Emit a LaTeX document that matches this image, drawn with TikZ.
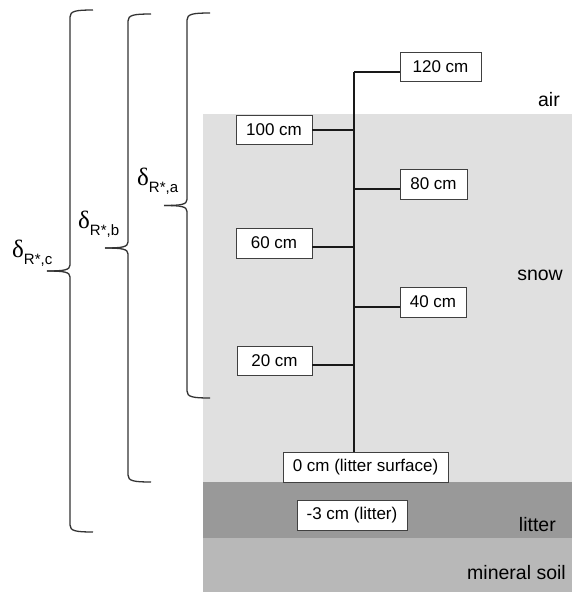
\documentclass[tikz,border=0pt]{standalone}
\usepackage{fontspec}
\setmainfont{Liberation Sans}
\newfontfamily\greekfont{Liberation Serif}
\begin{document}
\begin{tikzpicture}[x=1pt,y=-1pt,
  box/.style={draw=black!75,line width=0.8pt,fill=white,inner sep=0pt,font=\fontsize{17}{19}\selectfont},
  conn/.style={line width=1.6pt,black!90},
  brace/.style={line width=1.3pt,black!80},
  zone/.style={font=\fontsize{19.5}{21}\selectfont,anchor=base east,inner sep=0pt},
  dlab/.style={anchor=base west,inner sep=0pt}]
\useasboundingbox (0,0) rectangle (574,592);
% layers
\fill[black!12] (203,114) rectangle (572,482);
\fill[black!40] (203,482) rectangle (572,538);
\fill[black!28] (203,538) rectangle (572,592);
% zone labels
\node[zone] (air) at (560,106) {air};
\node[zone] (snow) at (563,280) {snow};
\node[zone] (litter) at (556,531) {litter};
\node[zone] (soil) at (566,579) {mineral soil};
% boxes
\node[box,minimum width=81pt,minimum height=29pt] (b120) at (440.5,66.5) {120 cm};
\node[box,minimum width=76pt,minimum height=29pt] (b100) at (274,129.5) {100 cm};
\node[box,minimum width=67pt,minimum height=30pt] (b80) at (433.5,184) {80 cm};
\node[box,minimum width=76pt,minimum height=30pt] (b60) at (274,243) {60 cm};
\node[box,minimum width=66pt,minimum height=30pt] (b40) at (433,302) {40 cm};
\node[box,minimum width=75pt,minimum height=29pt] (b20) at (274.5,360.5) {20 cm};
\node[box,minimum width=165pt,minimum height=30pt] (b0) at (365.5,467) {0 cm (litter surface)};
\node[box,minimum width=110pt,minimum height=30pt] (bm3) at (352,515) {-3 cm (litter)};
% trunk coordinates
\coordinate (t120) at (354,72);
\coordinate (t100) at (354,130);
\coordinate (t80) at (354,189);
\coordinate (t60) at (354,247);
\coordinate (t40) at (354,307);
\coordinate (t20) at (354,365);
\coordinate (tb) at (354,452);
\draw[conn] (t120) -- (tb);
\draw[conn] (t120) -- (t120 -| b120.west);
\draw[conn] (t100) -- (t100 -| b100.east);
\draw[conn] (t80) -- (t80 -| b80.west);
\draw[conn] (t60) -- (t60 -| b60.east);
\draw[conn] (t40) -- (t40 -| b40.west);
\draw[conn] (t20) -- (t20 -| b20.east);
% braces
\foreach \X/\T/\B in {187/13/398, 128/14/482, 70/10/532}{
  \pgfmathsetmacro{\M}{(\T+\B)/2}
  \draw[brace] (\X+23,\T) .. controls (\X+6,\T) and (\X,\T+1) .. (\X,\T+7)
     -- (\X,\M-6) .. controls (\X,\M-1) and (\X-6,\M) .. (\X-23,\M);
  \draw[brace] (\X+23,\B) .. controls (\X+6,\B) and (\X,\B-1) .. (\X,\B-7)
     -- (\X,\M+6) .. controls (\X,\M+1) and (\X-6,\M) .. (\X-23,\M);
}
% delta labels
\node[dlab] (da) at (137,185) {{\greekfont\fontsize{25}{25}\selectfont δ}\raisebox{-7pt}{\fontsize{15}{15}\selectfont R*,a}};
\node[dlab] (db) at (78,228) {{\greekfont\fontsize{25}{25}\selectfont δ}\raisebox{-7pt}{\fontsize{15}{15}\selectfont R*,b}};
\node[dlab] (dc) at (12,257) {{\greekfont\fontsize{25}{25}\selectfont δ}\raisebox{-7pt}{\fontsize{15}{15}\selectfont R*,c}};
\end{tikzpicture}
\end{document}
